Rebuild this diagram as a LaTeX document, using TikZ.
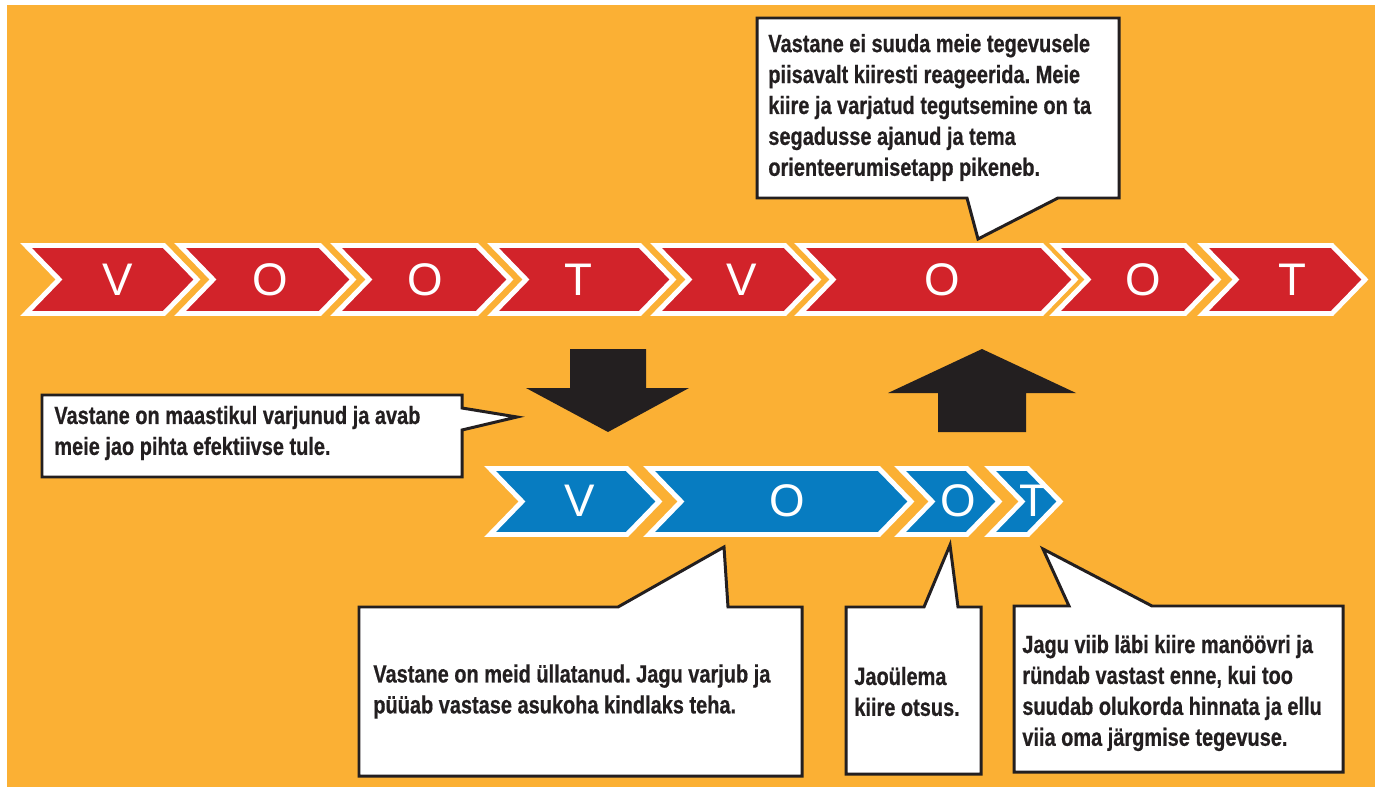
\documentclass[tikz,border=0pt]{standalone}
\usepackage{fontspec}
\setmainfont{Liberation Sans}
\newfontfamily\calloutfont[FakeStretch=0.8,FakeBold=0.6]{Liberation Sans}
\usepackage{xcolor}
\usepackage{tikz}
\frenchspacing

\definecolor{bgorange}{HTML}{FBB034}
\definecolor{chevred}{HTML}{D2232A}
\definecolor{chevblue}{HTML}{077CC1}
\definecolor{inkblack}{HTML}{231F20}

\begin{document}
\begin{tikzpicture}[x=0.02cm, y=-0.02cm,
    chev/.style={draw=white, line width=2.8pt},
    redchev/.style={chev, fill=chevred},
    bluechev/.style={chev, fill=chevblue},
    chevletter/.style={text=white, inner sep=0pt, font=\fontsize{26}{26}\selectfont},
    callout/.style={draw=inkblack, fill=white, line width=1.7pt},
    callouttext/.style={anchor=west, align=left, inner sep=0pt, text=inkblack,
        font=\calloutfont\bfseries\fontsize{14.2}{17.6}\selectfont},
    bigarrow/.style={fill=inkblack}]
    \useasboundingbox (0,0) rectangle (1375,787);
    % taust
    \fill[bgorange] (7,5) rectangle (1375,787);
    % ülemine rida (punane)
    \foreach \l/\r/\t/\lx [count=\i] in {26/164/V/118, 180/320/O/270, 336/477/O/425,
        493/640/T/578, 656/785/V/742, 800/1042/O/942, 1055/1185/O/1143, 1203/1332/T/1292}
    {
        \draw[redchev] (\l,245.5) -- (\r,245.5) -- (\r+33,279.5) -- (\r,313.5)
            -- (\l,313.5) -- (\l+33,279.5) -- cycle;
        \node[chevletter] (top\i) at (\lx,280) {\t};
    }
    % alumine rida (sinine)
    \foreach \l/\r/\t/\lx [count=\i] in {490/627/V/580, 649/879/O/787, 900/967/O/958, 990/1028/T/1033}
    {
        \draw[bluechev] (\l,468.5) -- (\r,468.5) -- (\r+32,501.5) -- (\r,534.5)
            -- (\l,534.5) -- (\l+32,501.5) -- cycle;
        \node[chevletter] (bot\i) at (\lx,501) {\t};
    }
    % nooled
    \fill[bigarrow] (570,349) -- (646,349) -- (646,388) -- (689,388) -- (608,432)
        -- (526,388) -- (570,388) -- cycle;
    \fill[bigarrow] (982,349) -- (1076,393) -- (1026,393) -- (1026,432) -- (938,432)
        -- (938,393) -- (888,393) -- cycle;
    % jutumullid
    \draw[callout] (757,18) -- (1119,18) -- (1119,198) -- (1058,198) -- (978,239)
        -- (967,198) -- (757,198) -- cycle;
    \node[callouttext] (orient) at (768,107.5) {Vastane ei suuda meie tegevusele\\
        piisavalt kiiresti reageerida. Meie\\ kiire ja varjatud tegutsemine on ta\\
        segadusse ajanud ja tema\\ orienteerumisetapp pikeneb.};
    \draw[callout] (42,395) -- (462,395) -- (462,408) -- (517,417) -- (462,430)
        -- (462,477) -- (42,477) -- cycle;
    \node[callouttext] (ambush) at (54,433) {Vastane on maastikul varjunud ja avab\\
        meie jao pihta efektiivse tule.};
    \draw[callout] (359,607) -- (618,607) -- (724,547) -- (728,607) -- (802,607)
        -- (802,776) -- (359,776) -- cycle;
    \node[callouttext] (surprise) at (373,691.5) {Vastane on meid üllatanud. Jagu varjub ja\\
        püüab vastase asukoha kindlaks teha.};
    \draw[callout] (846,607) -- (924,607) -- (950,545) -- (958,607) -- (981,607)
        -- (981,774) -- (846,774) -- cycle;
    \node[callouttext] (decide) at (854,691.5) {Jaoülema\\ kiire otsus.};
    \draw[callout] (1014,606) -- (1069,606) -- (1043,549) -- (1152,606) -- (1343,606)
        -- (1343,772) -- (1014,772) -- cycle;
    \node[callouttext] (attack) at (1022,693) {Jagu viib läbi kiire manöövri ja\\
        ründab vastast enne, kui too\\ suudab olukorda hinnata ja ellu\\
        viia oma järgmise tegevuse.};
\end{tikzpicture}
\end{document}
